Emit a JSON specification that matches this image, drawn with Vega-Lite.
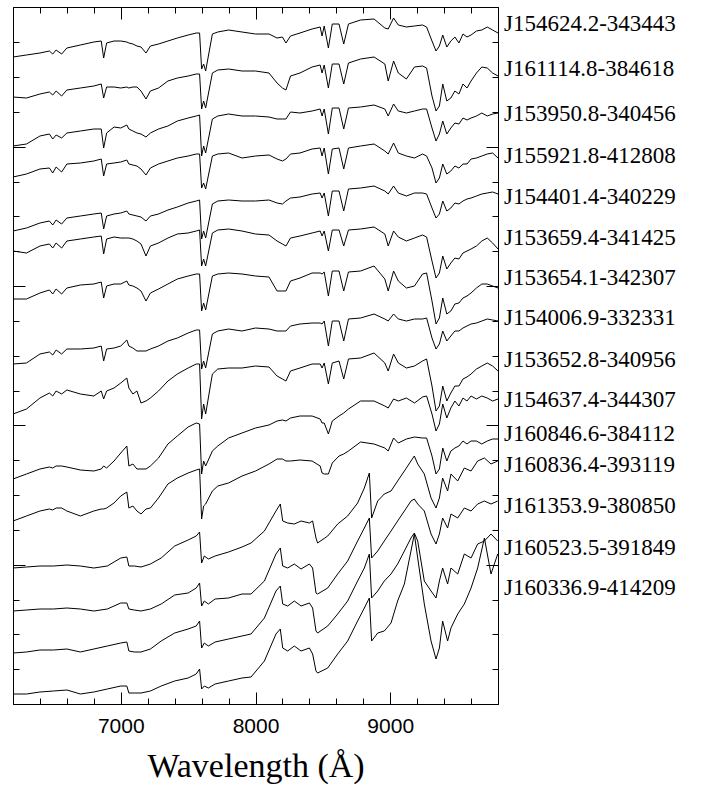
{
"$schema":"https://vega.github.io/schema/vega-lite/v6.json",
"width":485,"height":697,
"padding":{"left":12,"top":6,"right":5,"bottom":5},
"background":"white",
"config":{"view":{"stroke":"black","strokeWidth":1},"axis":{"grid":false,"domainColor":"black","tickColor":"black","domainWidth":1,"tickWidth":1,"labelColor":"black","titleColor":"black"}},
"datasets":{
"labels":[
{"name":"J154624.2-343443","f":6.80},{"name":"J161114.8-384618","f":6.35},{"name":"J153950.8-340456","f":5.90},{"name":"J155921.8-412808","f":5.48},{"name":"J154401.4-340229","f":5.07},{"name":"J153659.4-341425","f":4.66},{"name":"J153654.1-342307","f":4.26},{"name":"J154006.9-332331","f":3.86},{"name":"J153652.8-340956","f":3.44},{"name":"J154637.4-344307","f":3.04},{"name":"J160846.6-384112","f":2.70},{"name":"J160836.4-393119","f":2.39},{"name":"J161353.9-380850","f":1.98},{"name":"J160523.5-391849","f":1.56},{"name":"J160336.9-414209","f":1.16}],
"spec":[
{"s":1,"w":6200,"f":6.47},{"s":1,"w":6300,"f":6.49},{"s":1,"w":6400,"f":6.51},{"s":1,"w":6470,"f":6.53},{"s":1,"w":6495,"f":6.50},{"s":1,"w":6520,"f":6.54},{"s":1,"w":6561,"f":6.50},{"s":1,"w":6600,"f":6.56},{"s":1,"w":6700,"f":6.59},{"s":1,"w":6800,"f":6.62},
{"s":1,"w":6855,"f":6.63},{"s":1,"w":6873,"f":6.46},{"s":1,"w":6895,"f":6.61},{"s":1,"w":6950,"f":6.63},{"s":1,"w":7000,"f":6.63},{"s":1,"w":7045,"f":6.62},{"s":1,"w":7060,"f":6.61},{"s":1,"w":7090,"f":6.60},{"s":1,"w":7120,"f":6.58},{"s":1,"w":7150,"f":6.57},
{"s":1,"w":7187,"f":6.51},{"s":1,"w":7220,"f":6.58},{"s":1,"w":7280,"f":6.60},{"s":1,"w":7350,"f":6.63},{"s":1,"w":7420,"f":6.66},{"s":1,"w":7500,"f":6.69},{"s":1,"w":7560,"f":6.71},{"s":1,"w":7585,"f":6.71},{"s":1,"w":7600,"f":6.35},{"s":1,"w":7615,"f":6.40},
{"s":1,"w":7630,"f":6.33},{"s":1,"w":7680,"f":6.70},{"s":1,"w":7720,"f":6.72},{"s":1,"w":7800,"f":6.74},{"s":1,"w":7900,"f":6.72},{"s":1,"w":8000,"f":6.70},{"s":1,"w":8100,"f":6.70},{"s":1,"w":8160,"f":6.66},{"s":1,"w":8200,"f":6.67},{"s":1,"w":8226,"f":6.61},
{"s":1,"w":8260,"f":6.68},{"s":1,"w":8330,"f":6.71},{"s":1,"w":8420,"f":6.75},{"s":1,"w":8480,"f":6.77},{"s":1,"w":8494,"f":6.68},{"s":1,"w":8510,"f":6.78},{"s":1,"w":8541,"f":6.56},{"s":1,"w":8570,"f":6.80},{"s":1,"w":8620,"f":6.80},{"s":1,"w":8655,"f":6.60},
{"s":1,"w":8690,"f":6.80},{"s":1,"w":8780,"f":6.84},{"s":1,"w":8880,"f":6.85},{"s":1,"w":8960,"f":6.76},{"s":1,"w":8985,"f":6.75},{"s":1,"w":9025,"f":6.86},{"s":1,"w":9060,"f":6.79},{"s":1,"w":9120,"f":6.77},{"s":1,"w":9180,"f":6.78},{"s":1,"w":9240,"f":6.79},
{"s":1,"w":9270,"f":6.77},{"s":1,"w":9310,"f":6.63},{"s":1,"w":9340,"f":6.53},{"s":1,"w":9365,"f":6.58},{"s":1,"w":9390,"f":6.69},{"s":1,"w":9420,"f":6.57},{"s":1,"w":9450,"f":6.63},{"s":1,"w":9480,"f":6.67},{"s":1,"w":9510,"f":6.61},{"s":1,"w":9540,"f":6.70},
{"s":1,"w":9570,"f":6.67},{"s":1,"w":9600,"f":6.69},{"s":1,"w":9640,"f":6.73},{"s":1,"w":9680,"f":6.74},{"s":1,"w":9720,"f":6.77},{"s":1,"w":9760,"f":6.74},{"s":1,"w":9800,"f":6.71},
{"s":2,"w":6200,"f":6.07},{"s":2,"w":6300,"f":6.06},{"s":2,"w":6400,"f":6.10},{"s":2,"w":6470,"f":6.12},{"s":2,"w":6495,"f":6.09},{"s":2,"w":6520,"f":6.13},{"s":2,"w":6561,"f":6.08},{"s":2,"w":6600,"f":6.14},{"s":2,"w":6700,"f":6.16},{"s":2,"w":6800,"f":6.18},
{"s":2,"w":6855,"f":6.20},{"s":2,"w":6873,"f":6.06},{"s":2,"w":6895,"f":6.17},{"s":2,"w":6950,"f":6.17},{"s":2,"w":7000,"f":6.16},{"s":2,"w":7045,"f":6.17},{"s":2,"w":7060,"f":6.16},{"s":2,"w":7090,"f":6.17},{"s":2,"w":7120,"f":6.17},{"s":2,"w":7150,"f":6.13},
{"s":2,"w":7187,"f":6.05},{"s":2,"w":7220,"f":6.13},{"s":2,"w":7280,"f":6.16},{"s":2,"w":7350,"f":6.23},{"s":2,"w":7420,"f":6.26},{"s":2,"w":7500,"f":6.28},{"s":2,"w":7560,"f":6.30},{"s":2,"w":7585,"f":6.30},{"s":2,"w":7600,"f":5.95},{"s":2,"w":7615,"f":6.03},
{"s":2,"w":7630,"f":5.96},{"s":2,"w":7680,"f":6.31},{"s":2,"w":7720,"f":6.34},{"s":2,"w":7800,"f":6.35},{"s":2,"w":7900,"f":6.33},{"s":2,"w":8000,"f":6.33},{"s":2,"w":8100,"f":6.31},{"s":2,"w":8160,"f":6.21},{"s":2,"w":8200,"f":6.16},{"s":2,"w":8226,"f":6.14},
{"s":2,"w":8260,"f":6.28},{"s":2,"w":8330,"f":6.31},{"s":2,"w":8420,"f":6.37},{"s":2,"w":8480,"f":6.39},{"s":2,"w":8494,"f":6.31},{"s":2,"w":8510,"f":6.39},{"s":2,"w":8541,"f":6.16},{"s":2,"w":8570,"f":6.40},{"s":2,"w":8620,"f":6.40},{"s":2,"w":8655,"f":6.20},
{"s":2,"w":8690,"f":6.41},{"s":2,"w":8780,"f":6.45},{"s":2,"w":8880,"f":6.47},{"s":2,"w":8960,"f":6.40},{"s":2,"w":8985,"f":6.23},{"s":2,"w":9025,"f":6.43},{"s":2,"w":9060,"f":6.31},{"s":2,"w":9120,"f":6.25},{"s":2,"w":9180,"f":6.37},{"s":2,"w":9240,"f":6.38},
{"s":2,"w":9270,"f":6.36},{"s":2,"w":9310,"f":6.08},{"s":2,"w":9340,"f":5.93},{"s":2,"w":9365,"f":5.98},{"s":2,"w":9390,"f":6.20},{"s":2,"w":9420,"f":6.03},{"s":2,"w":9450,"f":6.06},{"s":2,"w":9480,"f":6.13},{"s":2,"w":9510,"f":6.10},{"s":2,"w":9540,"f":6.20},
{"s":2,"w":9570,"f":6.16},{"s":2,"w":9600,"f":6.23},{"s":2,"w":9640,"f":6.31},{"s":2,"w":9680,"f":6.37},{"s":2,"w":9720,"f":6.36},{"s":2,"w":9760,"f":6.31},{"s":2,"w":9800,"f":6.28},
{"s":3,"w":6200,"f":5.58},{"s":3,"w":6300,"f":5.60},{"s":3,"w":6400,"f":5.68},{"s":3,"w":6470,"f":5.70},{"s":3,"w":6495,"f":5.65},{"s":3,"w":6520,"f":5.69},{"s":3,"w":6561,"f":5.66},{"s":3,"w":6600,"f":5.71},{"s":3,"w":6700,"f":5.73},{"s":3,"w":6800,"f":5.75},
{"s":3,"w":6855,"f":5.75},{"s":3,"w":6873,"f":5.56},{"s":3,"w":6895,"f":5.71},{"s":3,"w":6950,"f":5.77},{"s":3,"w":7000,"f":5.76},{"s":3,"w":7045,"f":5.79},{"s":3,"w":7060,"f":5.75},{"s":3,"w":7090,"f":5.73},{"s":3,"w":7120,"f":5.71},{"s":3,"w":7150,"f":5.70},
{"s":3,"w":7187,"f":5.67},{"s":3,"w":7220,"f":5.71},{"s":3,"w":7280,"f":5.75},{"s":3,"w":7350,"f":5.78},{"s":3,"w":7420,"f":5.83},{"s":3,"w":7500,"f":5.86},{"s":3,"w":7560,"f":5.88},{"s":3,"w":7585,"f":5.89},{"s":3,"w":7600,"f":5.48},{"s":3,"w":7615,"f":5.58},
{"s":3,"w":7630,"f":5.51},{"s":3,"w":7680,"f":5.85},{"s":3,"w":7720,"f":5.88},{"s":3,"w":7800,"f":5.90},{"s":3,"w":7900,"f":5.88},{"s":3,"w":8000,"f":5.88},{"s":3,"w":8100,"f":5.87},{"s":3,"w":8160,"f":5.85},{"s":3,"w":8200,"f":5.85},{"s":3,"w":8226,"f":5.85},
{"s":3,"w":8260,"f":5.92},{"s":3,"w":8330,"f":5.91},{"s":3,"w":8420,"f":5.93},{"s":3,"w":8480,"f":5.95},{"s":3,"w":8494,"f":5.88},{"s":3,"w":8510,"f":5.95},{"s":3,"w":8541,"f":5.70},{"s":3,"w":8570,"f":5.96},{"s":3,"w":8620,"f":5.96},{"s":3,"w":8655,"f":5.75},
{"s":3,"w":8690,"f":5.96},{"s":3,"w":8780,"f":5.97},{"s":3,"w":8880,"f":5.99},{"s":3,"w":8960,"f":5.95},{"s":3,"w":8985,"f":5.88},{"s":3,"w":9025,"f":6.00},{"s":3,"w":9060,"f":5.93},{"s":3,"w":9120,"f":5.91},{"s":3,"w":9180,"f":5.93},{"s":3,"w":9240,"f":5.95},
{"s":3,"w":9270,"f":5.95},{"s":3,"w":9310,"f":5.76},{"s":3,"w":9340,"f":5.63},{"s":3,"w":9365,"f":5.70},{"s":3,"w":9390,"f":5.83},{"s":3,"w":9420,"f":5.70},{"s":3,"w":9450,"f":5.76},{"s":3,"w":9480,"f":5.81},{"s":3,"w":9510,"f":5.80},{"s":3,"w":9540,"f":5.86},
{"s":3,"w":9570,"f":5.84},{"s":3,"w":9600,"f":5.86},{"s":3,"w":9640,"f":5.88},{"s":3,"w":9680,"f":5.91},{"s":3,"w":9720,"f":5.88},{"s":3,"w":9760,"f":5.90},{"s":3,"w":9800,"f":5.91},
{"s":4,"w":6200,"f":5.27},{"s":4,"w":6300,"f":5.30},{"s":4,"w":6400,"f":5.35},{"s":4,"w":6470,"f":5.36},{"s":4,"w":6495,"f":5.31},{"s":4,"w":6520,"f":5.37},{"s":4,"w":6561,"f":5.32},{"s":4,"w":6600,"f":5.40},{"s":4,"w":6700,"f":5.41},{"s":4,"w":6800,"f":5.43},
{"s":4,"w":6855,"f":5.45},{"s":4,"w":6873,"f":5.28},{"s":4,"w":6895,"f":5.40},{"s":4,"w":6950,"f":5.41},{"s":4,"w":7000,"f":5.42},{"s":4,"w":7045,"f":5.44},{"s":4,"w":7060,"f":5.40},{"s":4,"w":7090,"f":5.39},{"s":4,"w":7120,"f":5.38},{"s":4,"w":7150,"f":5.35},
{"s":4,"w":7187,"f":5.29},{"s":4,"w":7220,"f":5.36},{"s":4,"w":7280,"f":5.40},{"s":4,"w":7350,"f":5.43},{"s":4,"w":7420,"f":5.46},{"s":4,"w":7500,"f":5.48},{"s":4,"w":7560,"f":5.50},{"s":4,"w":7585,"f":5.50},{"s":4,"w":7600,"f":5.16},{"s":4,"w":7615,"f":5.21},
{"s":4,"w":7630,"f":5.15},{"s":4,"w":7680,"f":5.48},{"s":4,"w":7720,"f":5.50},{"s":4,"w":7800,"f":5.51},{"s":4,"w":7900,"f":5.46},{"s":4,"w":8000,"f":5.48},{"s":4,"w":8100,"f":5.49},{"s":4,"w":8160,"f":5.45},{"s":4,"w":8200,"f":5.43},{"s":4,"w":8226,"f":5.45},
{"s":4,"w":8260,"f":5.50},{"s":4,"w":8330,"f":5.51},{"s":4,"w":8420,"f":5.55},{"s":4,"w":8480,"f":5.56},{"s":4,"w":8494,"f":5.48},{"s":4,"w":8510,"f":5.56},{"s":4,"w":8541,"f":5.30},{"s":4,"w":8570,"f":5.55},{"s":4,"w":8620,"f":5.56},{"s":4,"w":8655,"f":5.35},
{"s":4,"w":8690,"f":5.56},{"s":4,"w":8780,"f":5.58},{"s":4,"w":8880,"f":5.60},{"s":4,"w":8960,"f":5.53},{"s":4,"w":8985,"f":5.50},{"s":4,"w":9025,"f":5.61},{"s":4,"w":9060,"f":5.51},{"s":4,"w":9120,"f":5.48},{"s":4,"w":9180,"f":5.46},{"s":4,"w":9240,"f":5.50},
{"s":4,"w":9270,"f":5.48},{"s":4,"w":9310,"f":5.36},{"s":4,"w":9340,"f":5.21},{"s":4,"w":9365,"f":5.26},{"s":4,"w":9390,"f":5.40},{"s":4,"w":9420,"f":5.30},{"s":4,"w":9450,"f":5.33},{"s":4,"w":9480,"f":5.38},{"s":4,"w":9510,"f":5.36},{"s":4,"w":9540,"f":5.40},
{"s":4,"w":9570,"f":5.40},{"s":4,"w":9600,"f":5.45},{"s":4,"w":9640,"f":5.46},{"s":4,"w":9680,"f":5.48},{"s":4,"w":9720,"f":5.50},{"s":4,"w":9760,"f":5.51},{"s":4,"w":9800,"f":5.46},
{"s":5,"w":6200,"f":4.73},{"s":5,"w":6300,"f":4.76},{"s":5,"w":6400,"f":4.81},{"s":5,"w":6470,"f":4.83},{"s":5,"w":6495,"f":4.79},{"s":5,"w":6520,"f":4.84},{"s":5,"w":6561,"f":4.80},{"s":5,"w":6600,"f":4.86},{"s":5,"w":6700,"f":4.88},{"s":5,"w":6800,"f":4.90},
{"s":5,"w":6855,"f":4.91},{"s":5,"w":6873,"f":4.75},{"s":5,"w":6895,"f":4.88},{"s":5,"w":6950,"f":4.90},{"s":5,"w":7000,"f":4.91},{"s":5,"w":7045,"f":4.93},{"s":5,"w":7060,"f":4.90},{"s":5,"w":7090,"f":4.89},{"s":5,"w":7120,"f":4.88},{"s":5,"w":7150,"f":4.87},
{"s":5,"w":7187,"f":4.83},{"s":5,"w":7220,"f":4.88},{"s":5,"w":7280,"f":4.90},{"s":5,"w":7350,"f":4.94},{"s":5,"w":7420,"f":4.97},{"s":5,"w":7500,"f":5.01},{"s":5,"w":7560,"f":5.03},{"s":5,"w":7585,"f":5.04},{"s":5,"w":7600,"f":4.65},{"s":5,"w":7615,"f":4.73},
{"s":5,"w":7630,"f":4.66},{"s":5,"w":7680,"f":5.00},{"s":5,"w":7720,"f":5.03},{"s":5,"w":7800,"f":5.04},{"s":5,"w":7900,"f":5.03},{"s":5,"w":8000,"f":5.03},{"s":5,"w":8100,"f":5.04},{"s":5,"w":8160,"f":5.01},{"s":5,"w":8200,"f":5.00},{"s":5,"w":8226,"f":5.03},
{"s":5,"w":8260,"f":5.06},{"s":5,"w":8330,"f":5.07},{"s":5,"w":8420,"f":5.10},{"s":5,"w":8480,"f":5.11},{"s":5,"w":8494,"f":5.06},{"s":5,"w":8510,"f":5.11},{"s":5,"w":8541,"f":4.88},{"s":5,"w":8570,"f":5.13},{"s":5,"w":8620,"f":5.13},{"s":5,"w":8655,"f":4.93},
{"s":5,"w":8690,"f":5.15},{"s":5,"w":8780,"f":5.16},{"s":5,"w":8880,"f":5.18},{"s":5,"w":8960,"f":5.13},{"s":5,"w":8985,"f":5.10},{"s":5,"w":9025,"f":5.18},{"s":5,"w":9060,"f":5.11},{"s":5,"w":9120,"f":5.08},{"s":5,"w":9180,"f":5.11},{"s":5,"w":9240,"f":5.11},
{"s":5,"w":9270,"f":5.10},{"s":5,"w":9310,"f":4.96},{"s":5,"w":9340,"f":4.86},{"s":5,"w":9365,"f":4.90},{"s":5,"w":9390,"f":5.03},{"s":5,"w":9420,"f":4.93},{"s":5,"w":9450,"f":4.96},{"s":5,"w":9480,"f":5.01},{"s":5,"w":9510,"f":5.00},{"s":5,"w":9540,"f":5.03},
{"s":5,"w":9570,"f":5.05},{"s":5,"w":9600,"f":5.06},{"s":5,"w":9640,"f":5.08},{"s":5,"w":9680,"f":5.10},{"s":5,"w":9720,"f":5.11},{"s":5,"w":9760,"f":5.12},{"s":5,"w":9800,"f":5.10},
{"s":6,"w":6200,"f":4.53},{"s":6,"w":6300,"f":4.51},{"s":6,"w":6400,"f":4.58},{"s":6,"w":6470,"f":4.60},{"s":6,"w":6495,"f":4.56},{"s":6,"w":6520,"f":4.61},{"s":6,"w":6561,"f":4.56},{"s":6,"w":6600,"f":4.63},{"s":6,"w":6700,"f":4.65},{"s":6,"w":6800,"f":4.67},
{"s":6,"w":6855,"f":4.68},{"s":6,"w":6873,"f":4.50},{"s":6,"w":6895,"f":4.65},{"s":6,"w":6950,"f":4.67},{"s":6,"w":7000,"f":4.66},{"s":6,"w":7045,"f":4.66},{"s":6,"w":7060,"f":4.66},{"s":6,"w":7090,"f":4.65},{"s":6,"w":7120,"f":4.63},{"s":6,"w":7150,"f":4.60},
{"s":6,"w":7187,"f":4.48},{"s":6,"w":7220,"f":4.58},{"s":6,"w":7280,"f":4.61},{"s":6,"w":7350,"f":4.66},{"s":6,"w":7420,"f":4.70},{"s":6,"w":7500,"f":4.71},{"s":6,"w":7560,"f":4.73},{"s":6,"w":7585,"f":4.74},{"s":6,"w":7600,"f":4.38},{"s":6,"w":7615,"f":4.45},
{"s":6,"w":7630,"f":4.38},{"s":6,"w":7680,"f":4.71},{"s":6,"w":7720,"f":4.74},{"s":6,"w":7800,"f":4.75},{"s":6,"w":7900,"f":4.73},{"s":6,"w":8000,"f":4.70},{"s":6,"w":8100,"f":4.69},{"s":6,"w":8160,"f":4.63},{"s":6,"w":8200,"f":4.60},{"s":6,"w":8226,"f":4.58},
{"s":6,"w":8260,"f":4.66},{"s":6,"w":8330,"f":4.68},{"s":6,"w":8420,"f":4.71},{"s":6,"w":8480,"f":4.73},{"s":6,"w":8494,"f":4.68},{"s":6,"w":8510,"f":4.73},{"s":6,"w":8541,"f":4.53},{"s":6,"w":8570,"f":4.74},{"s":6,"w":8620,"f":4.74},{"s":6,"w":8655,"f":4.58},
{"s":6,"w":8690,"f":4.74},{"s":6,"w":8780,"f":4.75},{"s":6,"w":8880,"f":4.77},{"s":6,"w":8960,"f":4.70},{"s":6,"w":8985,"f":4.58},{"s":6,"w":9025,"f":4.73},{"s":6,"w":9060,"f":4.67},{"s":6,"w":9120,"f":4.63},{"s":6,"w":9180,"f":4.66},{"s":6,"w":9240,"f":4.69},
{"s":6,"w":9270,"f":4.67},{"s":6,"w":9310,"f":4.43},{"s":6,"w":9340,"f":4.26},{"s":6,"w":9365,"f":4.31},{"s":6,"w":9390,"f":4.48},{"s":6,"w":9420,"f":4.35},{"s":6,"w":9450,"f":4.41},{"s":6,"w":9480,"f":4.46},{"s":6,"w":9510,"f":4.45},{"s":6,"w":9540,"f":4.51},
{"s":6,"w":9570,"f":4.53},{"s":6,"w":9600,"f":4.55},{"s":6,"w":9640,"f":4.58},{"s":6,"w":9680,"f":4.63},{"s":6,"w":9720,"f":4.66},{"s":6,"w":9760,"f":4.61},{"s":6,"w":9800,"f":4.55},
{"s":7,"w":6200,"f":4.05},{"s":7,"w":6300,"f":4.05},{"s":7,"w":6400,"f":4.11},{"s":7,"w":6470,"f":4.14},{"s":7,"w":6495,"f":4.10},{"s":7,"w":6520,"f":4.15},{"s":7,"w":6561,"f":4.10},{"s":7,"w":6600,"f":4.16},{"s":7,"w":6700,"f":4.19},{"s":7,"w":6800,"f":4.20},
{"s":7,"w":6855,"f":4.22},{"s":7,"w":6873,"f":4.06},{"s":7,"w":6895,"f":4.18},{"s":7,"w":6950,"f":4.20},{"s":7,"w":7000,"f":4.20},{"s":7,"w":7045,"f":4.23},{"s":7,"w":7060,"f":4.19},{"s":7,"w":7090,"f":4.18},{"s":7,"w":7120,"f":4.16},{"s":7,"w":7150,"f":4.13},
{"s":7,"w":7187,"f":4.03},{"s":7,"w":7220,"f":4.11},{"s":7,"w":7280,"f":4.15},{"s":7,"w":7350,"f":4.20},{"s":7,"w":7420,"f":4.25},{"s":7,"w":7500,"f":4.28},{"s":7,"w":7560,"f":4.30},{"s":7,"w":7585,"f":4.30},{"s":7,"w":7600,"f":3.93},{"s":7,"w":7615,"f":4.01},
{"s":7,"w":7630,"f":3.94},{"s":7,"w":7680,"f":4.28},{"s":7,"w":7720,"f":4.30},{"s":7,"w":7800,"f":4.31},{"s":7,"w":7900,"f":4.30},{"s":7,"w":8000,"f":4.28},{"s":7,"w":8100,"f":4.27},{"s":7,"w":8160,"f":4.13},{"s":7,"w":8200,"f":4.13},{"s":7,"w":8226,"f":4.13},
{"s":7,"w":8260,"f":4.23},{"s":7,"w":8330,"f":4.26},{"s":7,"w":8420,"f":4.31},{"s":7,"w":8480,"f":4.31},{"s":7,"w":8494,"f":4.30},{"s":7,"w":8510,"f":4.32},{"s":7,"w":8541,"f":4.08},{"s":7,"w":8570,"f":4.33},{"s":7,"w":8620,"f":4.33},{"s":7,"w":8655,"f":4.13},
{"s":7,"w":8690,"f":4.32},{"s":7,"w":8780,"f":4.33},{"s":7,"w":8880,"f":4.38},{"s":7,"w":8960,"f":4.25},{"s":7,"w":8985,"f":4.13},{"s":7,"w":9025,"f":4.33},{"s":7,"w":9060,"f":4.23},{"s":7,"w":9120,"f":4.16},{"s":7,"w":9180,"f":4.18},{"s":7,"w":9240,"f":4.30},
{"s":7,"w":9270,"f":4.31},{"s":7,"w":9310,"f":4.03},{"s":7,"w":9340,"f":3.80},{"s":7,"w":9365,"f":3.86},{"s":7,"w":9390,"f":4.06},{"s":7,"w":9420,"f":3.90},{"s":7,"w":9450,"f":3.93},{"s":7,"w":9480,"f":4.00},{"s":7,"w":9510,"f":4.01},{"s":7,"w":9540,"f":4.06},
{"s":7,"w":9570,"f":4.08},{"s":7,"w":9600,"f":4.11},{"s":7,"w":9640,"f":4.16},{"s":7,"w":9680,"f":4.20},{"s":7,"w":9720,"f":4.20},{"s":7,"w":9760,"f":4.18},{"s":7,"w":9800,"f":4.16},
{"s":8,"w":6200,"f":3.40},{"s":8,"w":6300,"f":3.41},{"s":8,"w":6400,"f":3.50},{"s":8,"w":6470,"f":3.52},{"s":8,"w":6495,"f":3.49},{"s":8,"w":6520,"f":3.54},{"s":8,"w":6561,"f":3.50},{"s":8,"w":6600,"f":3.55},{"s":8,"w":6700,"f":3.55},{"s":8,"w":6800,"f":3.56},
{"s":8,"w":6855,"f":3.58},{"s":8,"w":6873,"f":3.43},{"s":8,"w":6895,"f":3.55},{"s":8,"w":6950,"f":3.56},{"s":8,"w":7000,"f":3.58},{"s":8,"w":7045,"f":3.64},{"s":8,"w":7060,"f":3.58},{"s":8,"w":7090,"f":3.56},{"s":8,"w":7120,"f":3.53},{"s":8,"w":7150,"f":3.53},
{"s":8,"w":7187,"f":3.53},{"s":8,"w":7220,"f":3.55},{"s":8,"w":7280,"f":3.58},{"s":8,"w":7350,"f":3.63},{"s":8,"w":7420,"f":3.66},{"s":8,"w":7500,"f":3.71},{"s":8,"w":7560,"f":3.74},{"s":8,"w":7585,"f":3.74},{"s":8,"w":7600,"f":3.35},{"s":8,"w":7615,"f":3.43},
{"s":8,"w":7630,"f":3.36},{"s":8,"w":7680,"f":3.70},{"s":8,"w":7720,"f":3.73},{"s":8,"w":7800,"f":3.75},{"s":8,"w":7900,"f":3.73},{"s":8,"w":8000,"f":3.76},{"s":8,"w":8100,"f":3.75},{"s":8,"w":8160,"f":3.73},{"s":8,"w":8200,"f":3.73},{"s":8,"w":8226,"f":3.73},
{"s":8,"w":8260,"f":3.78},{"s":8,"w":8330,"f":3.80},{"s":8,"w":8420,"f":3.81},{"s":8,"w":8480,"f":3.81},{"s":8,"w":8494,"f":3.80},{"s":8,"w":8510,"f":3.83},{"s":8,"w":8541,"f":3.58},{"s":8,"w":8570,"f":3.83},{"s":8,"w":8620,"f":3.83},{"s":8,"w":8655,"f":3.63},
{"s":8,"w":8690,"f":3.85},{"s":8,"w":8780,"f":3.86},{"s":8,"w":8880,"f":3.90},{"s":8,"w":8960,"f":3.85},{"s":8,"w":8985,"f":3.83},{"s":8,"w":9025,"f":3.90},{"s":8,"w":9060,"f":3.85},{"s":8,"w":9120,"f":3.83},{"s":8,"w":9180,"f":3.85},{"s":8,"w":9240,"f":3.85},
{"s":8,"w":9270,"f":3.86},{"s":8,"w":9310,"f":3.66},{"s":8,"w":9340,"f":3.55},{"s":8,"w":9365,"f":3.60},{"s":8,"w":9390,"f":3.73},{"s":8,"w":9420,"f":3.63},{"s":8,"w":9450,"f":3.68},{"s":8,"w":9480,"f":3.73},{"s":8,"w":9510,"f":3.73},{"s":8,"w":9540,"f":3.76},
{"s":8,"w":9570,"f":3.78},{"s":8,"w":9600,"f":3.80},{"s":8,"w":9640,"f":3.81},{"s":8,"w":9680,"f":3.83},{"s":8,"w":9720,"f":3.85},{"s":8,"w":9760,"f":3.84},{"s":8,"w":9800,"f":3.83},
{"s":9,"w":6200,"f":2.90},{"s":9,"w":6300,"f":2.95},{"s":9,"w":6400,"f":3.06},{"s":9,"w":6470,"f":3.11},{"s":9,"w":6495,"f":3.08},{"s":9,"w":6520,"f":3.13},{"s":9,"w":6561,"f":3.10},{"s":9,"w":6600,"f":3.14},{"s":9,"w":6700,"f":3.10},{"s":9,"w":6800,"f":3.08},
{"s":9,"w":6855,"f":3.13},{"s":9,"w":6873,"f":3.05},{"s":9,"w":6895,"f":3.13},{"s":9,"w":6950,"f":3.16},{"s":9,"w":7000,"f":3.21},{"s":9,"w":7045,"f":3.26},{"s":9,"w":7060,"f":3.16},{"s":9,"w":7090,"f":3.10},{"s":9,"w":7120,"f":3.13},{"s":9,"w":7150,"f":3.01},
{"s":9,"w":7187,"f":3.03},{"s":9,"w":7220,"f":3.06},{"s":9,"w":7280,"f":3.13},{"s":9,"w":7350,"f":3.23},{"s":9,"w":7420,"f":3.30},{"s":9,"w":7500,"f":3.36},{"s":9,"w":7560,"f":3.40},{"s":9,"w":7585,"f":3.40},{"s":9,"w":7600,"f":2.85},{"s":9,"w":7615,"f":3.00},
{"s":9,"w":7630,"f":2.90},{"s":9,"w":7680,"f":3.30},{"s":9,"w":7720,"f":3.35},{"s":9,"w":7800,"f":3.36},{"s":9,"w":7900,"f":3.36},{"s":9,"w":8000,"f":3.38},{"s":9,"w":8100,"f":3.37},{"s":9,"w":8160,"f":3.28},{"s":9,"w":8200,"f":3.25},{"s":9,"w":8226,"f":3.23},
{"s":9,"w":8260,"f":3.33},{"s":9,"w":8330,"f":3.36},{"s":9,"w":8420,"f":3.40},{"s":9,"w":8480,"f":3.40},{"s":9,"w":8494,"f":3.36},{"s":9,"w":8510,"f":3.41},{"s":9,"w":8541,"f":3.20},{"s":9,"w":8570,"f":3.41},{"s":9,"w":8620,"f":3.43},{"s":9,"w":8655,"f":3.25},
{"s":9,"w":8690,"f":3.45},{"s":9,"w":8780,"f":3.46},{"s":9,"w":8880,"f":3.51},{"s":9,"w":8960,"f":3.41},{"s":9,"w":8985,"f":3.33},{"s":9,"w":9025,"f":3.50},{"s":9,"w":9060,"f":3.41},{"s":9,"w":9120,"f":3.36},{"s":9,"w":9180,"f":3.38},{"s":9,"w":9240,"f":3.43},
{"s":9,"w":9270,"f":3.45},{"s":9,"w":9310,"f":3.18},{"s":9,"w":9340,"f":2.93},{"s":9,"w":9365,"f":2.98},{"s":9,"w":9390,"f":3.18},{"s":9,"w":9420,"f":3.03},{"s":9,"w":9450,"f":3.11},{"s":9,"w":9480,"f":3.18},{"s":9,"w":9510,"f":3.18},{"s":9,"w":9540,"f":3.25},
{"s":9,"w":9570,"f":3.27},{"s":9,"w":9600,"f":3.30},{"s":9,"w":9640,"f":3.35},{"s":9,"w":9680,"f":3.38},{"s":9,"w":9720,"f":3.41},{"s":9,"w":9760,"f":3.38},{"s":9,"w":9800,"f":3.33},
{"s":10,"w":6200,"f":2.25},{"s":10,"w":6300,"f":2.30},{"s":10,"w":6400,"f":2.35},{"s":10,"w":6470,"f":2.37},{"s":10,"w":6495,"f":2.36},{"s":10,"w":6520,"f":2.38},{"s":10,"w":6561,"f":2.38},{"s":10,"w":6600,"f":2.37},{"s":10,"w":6700,"f":2.34},{"s":10,"w":6800,"f":2.33},
{"s":10,"w":6855,"f":2.35},{"s":10,"w":6873,"f":2.38},{"s":10,"w":6895,"f":2.36},{"s":10,"w":6950,"f":2.43},{"s":10,"w":7000,"f":2.51},{"s":10,"w":7045,"f":2.58},{"s":10,"w":7060,"f":2.38},{"s":10,"w":7090,"f":2.40},{"s":10,"w":7120,"f":2.35},{"s":10,"w":7150,"f":2.35},
{"s":10,"w":7187,"f":2.35},{"s":10,"w":7220,"f":2.38},{"s":10,"w":7280,"f":2.46},{"s":10,"w":7350,"f":2.60},{"s":10,"w":7420,"f":2.68},{"s":10,"w":7500,"f":2.77},{"s":10,"w":7560,"f":2.81},{"s":10,"w":7585,"f":2.80},{"s":10,"w":7600,"f":2.30},{"s":10,"w":7615,"f":2.43},
{"s":10,"w":7630,"f":2.38},{"s":10,"w":7680,"f":2.53},{"s":10,"w":7720,"f":2.58},{"s":10,"w":7800,"f":2.66},{"s":10,"w":7900,"f":2.71},{"s":10,"w":8000,"f":2.76},{"s":10,"w":8100,"f":2.79},{"s":10,"w":8160,"f":2.83},{"s":10,"w":8200,"f":2.84},{"s":10,"w":8226,"f":2.83},
{"s":10,"w":8260,"f":2.86},{"s":10,"w":8330,"f":2.88},{"s":10,"w":8420,"f":2.88},{"s":10,"w":8480,"f":2.85},{"s":10,"w":8494,"f":2.81},{"s":10,"w":8510,"f":2.81},{"s":10,"w":8541,"f":2.70},{"s":10,"w":8570,"f":2.83},{"s":10,"w":8620,"f":2.88},{"s":10,"w":8655,"f":2.91},
{"s":10,"w":8690,"f":2.95},{"s":10,"w":8780,"f":3.03},{"s":10,"w":8880,"f":3.03},{"s":10,"w":8960,"f":2.98},{"s":10,"w":8985,"f":2.96},{"s":10,"w":9025,"f":3.05},{"s":10,"w":9060,"f":3.03},{"s":10,"w":9120,"f":3.06},{"s":10,"w":9180,"f":3.01},{"s":10,"w":9240,"f":3.07},
{"s":10,"w":9270,"f":3.08},{"s":10,"w":9310,"f":2.90},{"s":10,"w":9340,"f":2.73},{"s":10,"w":9365,"f":2.80},{"s":10,"w":9390,"f":3.00},{"s":10,"w":9420,"f":2.86},{"s":10,"w":9450,"f":2.96},{"s":10,"w":9480,"f":3.03},{"s":10,"w":9510,"f":2.98},{"s":10,"w":9540,"f":3.06},
{"s":10,"w":9570,"f":3.03},{"s":10,"w":9600,"f":3.08},{"s":10,"w":9640,"f":3.05},{"s":10,"w":9680,"f":3.08},{"s":10,"w":9720,"f":3.06},{"s":10,"w":9760,"f":3.03},{"s":10,"w":9800,"f":3.05},
{"s":11,"w":6200,"f":1.83},{"s":11,"w":6300,"f":1.88},{"s":11,"w":6400,"f":1.93},{"s":11,"w":6470,"f":1.95},{"s":11,"w":6495,"f":1.94},{"s":11,"w":6520,"f":1.96},{"s":11,"w":6561,"f":1.96},{"s":11,"w":6600,"f":1.93},{"s":11,"w":6700,"f":1.88},{"s":11,"w":6800,"f":1.93},
{"s":11,"w":6855,"f":1.95},{"s":11,"w":6873,"f":1.95},{"s":11,"w":6895,"f":1.96},{"s":11,"w":6950,"f":2.01},{"s":11,"w":7000,"f":2.08},{"s":11,"w":7045,"f":2.12},{"s":11,"w":7060,"f":1.96},{"s":11,"w":7090,"f":1.98},{"s":11,"w":7120,"f":1.93},{"s":11,"w":7150,"f":1.90},
{"s":11,"w":7187,"f":1.95},{"s":11,"w":7220,"f":1.96},{"s":11,"w":7280,"f":2.06},{"s":11,"w":7350,"f":2.20},{"s":11,"w":7420,"f":2.26},{"s":11,"w":7500,"f":2.31},{"s":11,"w":7560,"f":2.34},{"s":11,"w":7585,"f":2.35},{"s":11,"w":7600,"f":1.85},{"s":11,"w":7615,"f":1.98},
{"s":11,"w":7630,"f":2.00},{"s":11,"w":7680,"f":2.13},{"s":11,"w":7720,"f":2.18},{"s":11,"w":7800,"f":2.21},{"s":11,"w":7900,"f":2.28},{"s":11,"w":8000,"f":2.33},{"s":11,"w":8100,"f":2.40},{"s":11,"w":8160,"f":2.45},{"s":11,"w":8200,"f":2.45},{"s":11,"w":8226,"f":2.43},
{"s":11,"w":8260,"f":2.43},{"s":11,"w":8330,"f":2.44},{"s":11,"w":8420,"f":2.43},{"s":11,"w":8480,"f":2.38},{"s":11,"w":8494,"f":2.31},{"s":11,"w":8510,"f":2.30},{"s":11,"w":8541,"f":2.30},{"s":11,"w":8570,"f":2.41},{"s":11,"w":8620,"f":2.48},{"s":11,"w":8655,"f":2.50},
{"s":11,"w":8690,"f":2.53},{"s":11,"w":8780,"f":2.62},{"s":11,"w":8880,"f":2.60},{"s":11,"w":8960,"f":2.56},{"s":11,"w":8985,"f":2.53},{"s":11,"w":9025,"f":2.66},{"s":11,"w":9060,"f":2.61},{"s":11,"w":9120,"f":2.65},{"s":11,"w":9180,"f":2.67},{"s":11,"w":9240,"f":2.66},
{"s":11,"w":9270,"f":2.66},{"s":11,"w":9310,"f":2.48},{"s":11,"w":9340,"f":2.30},{"s":11,"w":9365,"f":2.35},{"s":11,"w":9390,"f":2.56},{"s":11,"w":9420,"f":2.43},{"s":11,"w":9450,"f":2.53},{"s":11,"w":9480,"f":2.56},{"s":11,"w":9510,"f":2.58},{"s":11,"w":9540,"f":2.63},
{"s":11,"w":9570,"f":2.60},{"s":11,"w":9600,"f":2.63},{"s":11,"w":9640,"f":2.63},{"s":11,"w":9680,"f":2.60},{"s":11,"w":9720,"f":2.63},{"s":11,"w":9760,"f":2.65},{"s":11,"w":9800,"f":2.65},
{"s":12,"w":6200,"f":1.36},{"s":12,"w":6300,"f":1.37},{"s":12,"w":6400,"f":1.38},{"s":12,"w":6500,"f":1.38},{"s":12,"w":6600,"f":1.39},{"s":12,"w":6700,"f":1.38},{"s":12,"w":6800,"f":1.36},{"s":12,"w":6900,"f":1.38},{"s":12,"w":7000,"f":1.46},{"s":12,"w":7045,"f":1.47},
{"s":12,"w":7060,"f":1.38},{"s":12,"w":7100,"f":1.38},{"s":12,"w":7150,"f":1.37},{"s":12,"w":7220,"f":1.40},{"s":12,"w":7300,"f":1.46},{"s":12,"w":7400,"f":1.58},{"s":12,"w":7500,"f":1.64},{"s":12,"w":7560,"f":1.68},{"s":12,"w":7585,"f":1.72},{"s":12,"w":7600,"f":1.41},
{"s":12,"w":7620,"f":1.48},{"s":12,"w":7650,"f":1.45},{"s":12,"w":7700,"f":1.48},{"s":12,"w":7800,"f":1.52},{"s":12,"w":7900,"f":1.57},{"s":12,"w":7967,"f":1.61},{"s":12,"w":8066,"f":1.73},{"s":12,"w":8152,"f":1.93},{"s":12,"w":8184,"f":2.00},{"s":12,"w":8202,"f":1.83},
{"s":12,"w":8239,"f":1.81},{"s":12,"w":8288,"f":1.80},{"s":12,"w":8338,"f":1.83},{"s":12,"w":8400,"f":1.81},{"s":12,"w":8424,"f":1.83},{"s":12,"w":8449,"f":1.66},{"s":12,"w":8461,"f":1.61},{"s":12,"w":8536,"f":1.68},{"s":12,"w":8610,"f":1.80},{"s":12,"w":8684,"f":1.88},
{"s":12,"w":8758,"f":2.01},{"s":12,"w":8808,"f":2.16},{"s":12,"w":8845,"f":2.31},{"s":12,"w":8862,"f":1.86},{"s":12,"w":8907,"f":2.03},{"s":12,"w":8956,"f":2.10},{"s":12,"w":9006,"f":2.13},{"s":12,"w":9055,"f":2.23},{"s":12,"w":9105,"f":2.33},{"s":12,"w":9154,"f":2.43},
{"s":12,"w":9179,"f":2.48},{"s":12,"w":9204,"f":2.40},{"s":12,"w":9253,"f":2.30},{"s":12,"w":9303,"f":2.06},{"s":12,"w":9340,"f":1.96},{"s":12,"w":9365,"f":2.06},{"s":12,"w":9389,"f":2.26},{"s":12,"w":9426,"f":2.13},{"s":12,"w":9451,"f":2.30},{"s":12,"w":9501,"f":2.23},
{"s":12,"w":9550,"f":2.36},{"s":12,"w":9600,"f":2.33},{"s":12,"w":9649,"f":2.43},{"s":12,"w":9699,"f":2.46},{"s":12,"w":9748,"f":2.40},{"s":12,"w":9798,"f":2.43},
{"s":13,"w":6200,"f":0.93},{"s":13,"w":6300,"f":0.94},{"s":13,"w":6400,"f":0.95},{"s":13,"w":6500,"f":0.95},{"s":13,"w":6600,"f":0.96},{"s":13,"w":6700,"f":0.95},{"s":13,"w":6800,"f":0.93},{"s":13,"w":6900,"f":0.95},{"s":13,"w":7000,"f":1.01},{"s":13,"w":7045,"f":1.01},
{"s":13,"w":7060,"f":0.95},{"s":13,"w":7100,"f":0.94},{"s":13,"w":7150,"f":0.93},{"s":13,"w":7220,"f":0.95},{"s":13,"w":7300,"f":1.00},{"s":13,"w":7400,"f":1.09},{"s":13,"w":7500,"f":1.11},{"s":13,"w":7560,"f":1.16},{"s":13,"w":7585,"f":1.21},{"s":13,"w":7600,"f":0.98},
{"s":13,"w":7620,"f":1.03},{"s":13,"w":7650,"f":1.00},{"s":13,"w":7700,"f":1.05},{"s":13,"w":7800,"f":1.06},{"s":13,"w":7900,"f":1.10},{"s":13,"w":7967,"f":1.10},{"s":13,"w":8066,"f":1.23},{"s":13,"w":8152,"f":1.50},{"s":13,"w":8184,"f":1.56},{"s":13,"w":8202,"f":1.38},
{"s":13,"w":8239,"f":1.36},{"s":13,"w":8288,"f":1.40},{"s":13,"w":8338,"f":1.35},{"s":13,"w":8400,"f":1.40},{"s":13,"w":8424,"f":1.36},{"s":13,"w":8449,"f":1.11},{"s":13,"w":8461,"f":1.10},{"s":13,"w":8536,"f":1.16},{"s":13,"w":8610,"f":1.30},{"s":13,"w":8684,"f":1.43},
{"s":13,"w":8758,"f":1.63},{"s":13,"w":8808,"f":1.76},{"s":13,"w":8845,"f":1.86},{"s":13,"w":8862,"f":1.46},{"s":13,"w":8907,"f":1.53},{"s":13,"w":8956,"f":1.63},{"s":13,"w":9006,"f":1.73},{"s":13,"w":9055,"f":1.83},{"s":13,"w":9105,"f":1.93},{"s":13,"w":9154,"f":2.03},
{"s":13,"w":9179,"f":2.05},{"s":13,"w":9204,"f":2.00},{"s":13,"w":9253,"f":1.93},{"s":13,"w":9303,"f":1.70},{"s":13,"w":9340,"f":1.60},{"s":13,"w":9365,"f":1.70},{"s":13,"w":9389,"f":1.86},{"s":13,"w":9426,"f":1.76},{"s":13,"w":9451,"f":1.90},{"s":13,"w":9501,"f":1.86},
{"s":13,"w":9550,"f":1.96},{"s":13,"w":9600,"f":1.93},{"s":13,"w":9649,"f":2.00},{"s":13,"w":9699,"f":2.03},{"s":13,"w":9748,"f":2.00},{"s":13,"w":9798,"f":2.03},
{"s":14,"w":6200,"f":0.51},{"s":14,"w":6300,"f":0.52},{"s":14,"w":6400,"f":0.54},{"s":14,"w":6500,"f":0.54},{"s":14,"w":6600,"f":0.55},{"s":14,"w":6700,"f":0.52},{"s":14,"w":6800,"f":0.55},{"s":14,"w":6900,"f":0.58},{"s":14,"w":7000,"f":0.61},{"s":14,"w":7045,"f":0.62},
{"s":14,"w":7060,"f":0.53},{"s":14,"w":7100,"f":0.52},{"s":14,"w":7150,"f":0.52},{"s":14,"w":7220,"f":0.55},{"s":14,"w":7300,"f":0.63},{"s":14,"w":7400,"f":0.71},{"s":14,"w":7500,"f":0.75},{"s":14,"w":7560,"f":0.78},{"s":14,"w":7585,"f":0.83},{"s":14,"w":7600,"f":0.56},
{"s":14,"w":7620,"f":0.61},{"s":14,"w":7650,"f":0.58},{"s":14,"w":7700,"f":0.62},{"s":14,"w":7800,"f":0.65},{"s":14,"w":7900,"f":0.68},{"s":14,"w":7967,"f":0.70},{"s":14,"w":8066,"f":0.86},{"s":14,"w":8152,"f":1.13},{"s":14,"w":8184,"f":1.18},{"s":14,"w":8202,"f":1.00},
{"s":14,"w":8239,"f":0.98},{"s":14,"w":8288,"f":1.03},{"s":14,"w":8338,"f":0.98},{"s":14,"w":8400,"f":1.01},{"s":14,"w":8424,"f":0.96},{"s":14,"w":8449,"f":0.73},{"s":14,"w":8461,"f":0.71},{"s":14,"w":8536,"f":0.78},{"s":14,"w":8610,"f":0.90},{"s":14,"w":8684,"f":1.03},
{"s":14,"w":8758,"f":1.23},{"s":14,"w":8808,"f":1.36},{"s":14,"w":8845,"f":1.50},{"s":14,"w":8862,"f":1.06},{"s":14,"w":8907,"f":1.13},{"s":14,"w":8956,"f":1.23},{"s":14,"w":9006,"f":1.30},{"s":14,"w":9055,"f":1.40},{"s":14,"w":9105,"f":1.53},{"s":14,"w":9154,"f":1.66},
{"s":14,"w":9179,"f":1.71},{"s":14,"w":9204,"f":1.63},{"s":14,"w":9253,"f":1.23},{"s":14,"w":9303,"f":1.13},{"s":14,"w":9340,"f":1.06},{"s":14,"w":9365,"f":1.23},{"s":14,"w":9389,"f":1.36},{"s":14,"w":9426,"f":1.20},{"s":14,"w":9451,"f":1.36},{"s":14,"w":9501,"f":1.30},
{"s":14,"w":9550,"f":1.50},{"s":14,"w":9600,"f":1.46},{"s":14,"w":9649,"f":1.60},{"s":14,"w":9699,"f":1.63},{"s":14,"w":9748,"f":1.70},{"s":14,"w":9798,"f":1.63},
{"s":15,"w":6200,"f":0.10},{"s":15,"w":6300,"f":0.10},{"s":15,"w":6400,"f":0.12},{"s":15,"w":6500,"f":0.13},{"s":15,"w":6600,"f":0.14},{"s":15,"w":6700,"f":0.10},{"s":15,"w":6800,"f":0.12},{"s":15,"w":6900,"f":0.15},{"s":15,"w":7000,"f":0.18},{"s":15,"w":7045,"f":0.18},
{"s":15,"w":7060,"f":0.11},{"s":15,"w":7100,"f":0.11},{"s":15,"w":7150,"f":0.11},{"s":15,"w":7220,"f":0.13},{"s":15,"w":7300,"f":0.18},{"s":15,"w":7400,"f":0.23},{"s":15,"w":7500,"f":0.26},{"s":15,"w":7560,"f":0.30},{"s":15,"w":7585,"f":0.35},{"s":15,"w":7600,"f":0.15},
{"s":15,"w":7620,"f":0.18},{"s":15,"w":7650,"f":0.16},{"s":15,"w":7700,"f":0.20},{"s":15,"w":7800,"f":0.23},{"s":15,"w":7900,"f":0.26},{"s":15,"w":7967,"f":0.27},{"s":15,"w":8066,"f":0.43},{"s":15,"w":8152,"f":0.70},{"s":15,"w":8184,"f":0.75},{"s":15,"w":8202,"f":0.56},
{"s":15,"w":8239,"f":0.53},{"s":15,"w":8288,"f":0.58},{"s":15,"w":8338,"f":0.53},{"s":15,"w":8400,"f":0.56},{"s":15,"w":8424,"f":0.50},{"s":15,"w":8449,"f":0.33},{"s":15,"w":8461,"f":0.31},{"s":15,"w":8536,"f":0.36},{"s":15,"w":8610,"f":0.50},{"s":15,"w":8684,"f":0.63},
{"s":15,"w":8758,"f":0.83},{"s":15,"w":8808,"f":0.96},{"s":15,"w":8845,"f":1.06},{"s":15,"w":8862,"f":0.63},{"s":15,"w":8907,"f":0.71},{"s":15,"w":8956,"f":0.73},{"s":15,"w":9006,"f":0.81},{"s":15,"w":9055,"f":1.03},{"s":15,"w":9105,"f":1.20},{"s":15,"w":9154,"f":1.53},
{"s":15,"w":9179,"f":1.70},{"s":15,"w":9204,"f":1.46},{"s":15,"w":9253,"f":1.00},{"s":15,"w":9303,"f":0.63},{"s":15,"w":9340,"f":0.45},{"s":15,"w":9365,"f":0.56},{"s":15,"w":9389,"f":0.83},{"s":15,"w":9426,"f":0.63},{"s":15,"w":9451,"f":0.76},{"s":15,"w":9501,"f":0.90},
{"s":15,"w":9550,"f":1.00},{"s":15,"w":9600,"f":1.16},{"s":15,"w":9649,"f":1.36},{"s":15,"w":9699,"f":1.66},{"s":15,"w":9748,"f":1.30},{"s":15,"w":9798,"f":1.50}
]},
"layer":[
{"data":{"name":"spec"},
 "mark":{"type":"line","color":"black","strokeWidth":1,"clip":true},
 "encoding":{
  "x":{"field":"w","type":"quantitative","scale":{"domain":[6200,9800],"nice":false,"zero":false},
   "axis":{"orient":"bottom","values":[7000,8000,9000],"format":"d","tickSize":-12,"labelPadding":23,"labelFont":"Liberation Sans","labelFontSize":21,"title":"Wavelength (Å)","titleFont":"Liberation Serif","titleFontSize":34,"titleFontWeight":"normal","titlePadding":13}},
  "y":{"field":"f","type":"quantitative","scale":{"domain":[0,6.97],"nice":false,"zero":false},
   "axis":{"orient":"left","values":[1.393,2.786,4.179,5.572],"tickSize":-12,"labels":false,"title":null}},
  "detail":{"field":"s","type":"nominal"}}},
{"data":{"name":"labels"},
 "mark":{"type":"text","align":"left","baseline":"middle","dx":6,"font":"Liberation Serif","fontSize":23,"color":"black"},
 "encoding":{
  "x":{"datum":9800,"type":"quantitative","axis":null},
  "y":{"field":"f","type":"quantitative","axis":null},
  "text":{"field":"name"}}},
{"data":{"name":"spec"},"transform":[{"filter":"datum.s == 1"}],
 "mark":{"type":"point","opacity":0,"clip":true,"size":1},
 "encoding":{
  "x":{"field":"w","type":"quantitative","axis":{"orient":"bottom","values":[6400,6600,6800,7200,7400,7600,7800,8200,8400,8600,8800,9200,9400,9600],"tickSize":-6,"labels":false,"domain":false,"title":null}},
  "y":{"field":"f","type":"quantitative","axis":{"orient":"left","values":[0.348,0.696,1.044,1.741,2.089,2.437,3.134,3.482,3.830,4.527,4.875,5.223,5.920,6.268,6.616],"tickSize":-6,"labels":false,"domain":false,"title":null}}}},
{"data":{"name":"spec"},"transform":[{"filter":"datum.s == 1"}],
 "mark":{"type":"point","opacity":0,"clip":true,"size":1},
 "encoding":{
  "x":{"field":"w","type":"quantitative","axis":{"orient":"top","values":[7000,8000,9000],"tickSize":-12,"labels":false,"title":null}},
  "y":{"field":"f","type":"quantitative","axis":{"orient":"right","values":[1.393,2.786,4.179,5.572],"tickSize":-12,"labels":false,"title":null}}}},
{"data":{"name":"spec"},"transform":[{"filter":"datum.s == 1"}],
 "mark":{"type":"point","opacity":0,"clip":true,"size":1},
 "encoding":{
  "x":{"field":"w","type":"quantitative","axis":{"orient":"top","values":[6400,6600,6800,7200,7400,7600,7800,8200,8400,8600,8800,9200,9400,9600],"tickSize":-6,"labels":false,"domain":false,"title":null}},
  "y":{"field":"f","type":"quantitative","axis":{"orient":"right","values":[0.348,0.696,1.044,1.741,2.089,2.437,3.134,3.482,3.830,4.527,4.875,5.223,5.920,6.268,6.616],"tickSize":-6,"labels":false,"domain":false,"title":null}}}}
],
"resolve":{"axis":{"x":"independent","y":"independent"}}
}
